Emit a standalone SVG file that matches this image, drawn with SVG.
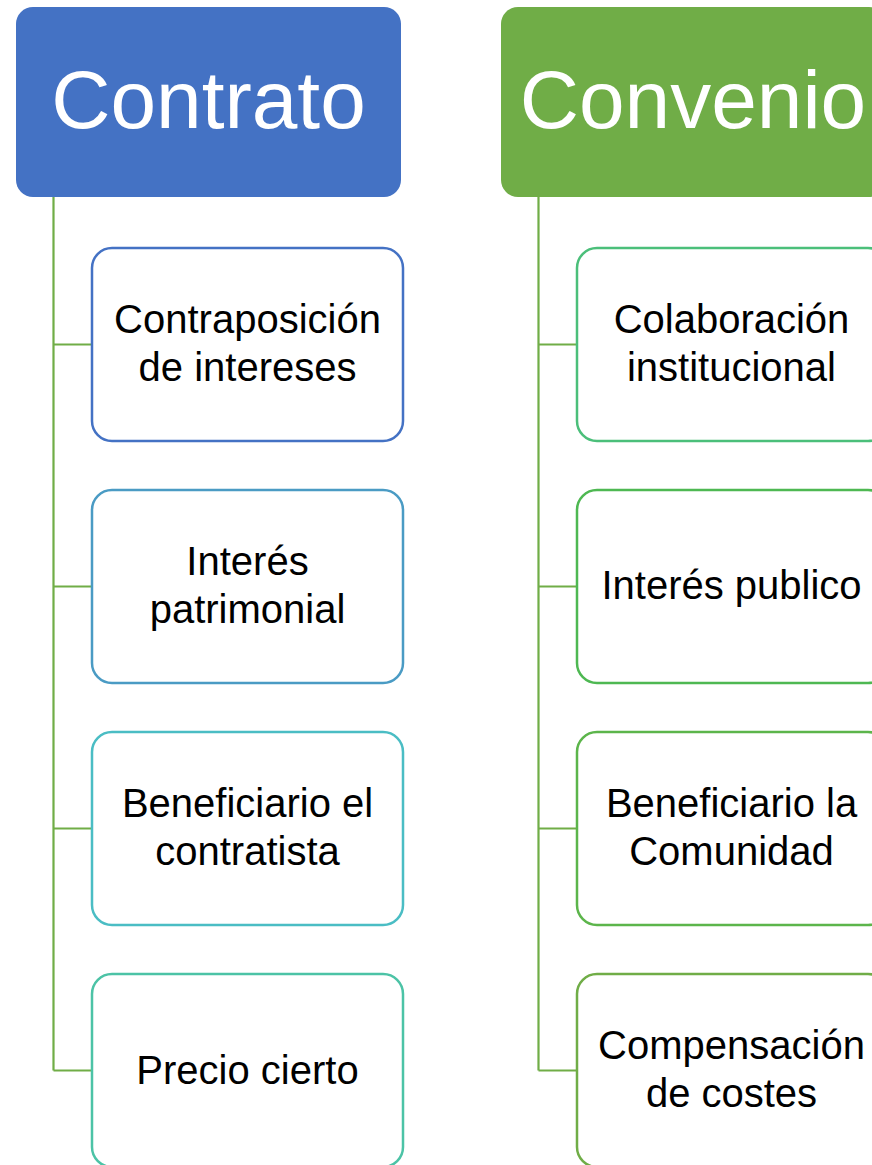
<svg xmlns="http://www.w3.org/2000/svg" width="872" height="1165" viewBox="0 0 872 1165">
<style>
.hdr{font-family:"Liberation Sans",Arial,sans-serif;font-size:82px;fill:#ffffff;text-anchor:middle}
.lbl{font-family:"Liberation Sans",Arial,sans-serif;font-size:40px;fill:#000000;text-anchor:middle}
.box{fill:#ffffff;stroke-width:2.5}
.conn{fill:none;stroke:#70AD47;stroke-width:2.2}
</style>
<rect width="872" height="1165" fill="#ffffff"/>
<g id="connectors">
<path class="conn" d="M53.5 197 V1070.5 M53.5 344.5 H92 M53.5 586.5 H92 M53.5 828.5 H92 M53.5 1070.5 H92"/>
<path class="conn" d="M538.5 197 V1070.5 M538.5 344.5 H577 M538.5 586.5 H577 M538.5 828.5 H577 M538.5 1070.5 H577"/>
</g>
<g id="contrato">
<rect x="16" y="7" width="385" height="190" rx="17" fill="#4472C4"/>
<text class="hdr" x="208.5" y="128">Contrato</text>
</g>
<g id="convenio">
<rect x="501" y="7" width="385" height="190" rx="17" fill="#70AD47"/>
<text class="hdr" x="693" y="128">Convenio</text>
</g>
<g id="c1">
<rect class="box" x="92" y="248" width="311" height="193" rx="20" stroke="#4472C4"/>
<text class="lbl" x="247.5" y="333">Contraposición</text>
<text class="lbl" x="247.5" y="381">de intereses</text>
</g>
<g id="c2">
<rect class="box" x="92" y="490" width="311" height="193" rx="20" stroke="#4A9BC4"/>
<text class="lbl" x="247.5" y="575">Interés</text>
<text class="lbl" x="247.5" y="623">patrimonial</text>
</g>
<g id="c3">
<rect class="box" x="92" y="732" width="311" height="193" rx="20" stroke="#4ABDC4"/>
<text class="lbl" x="247.5" y="817">Beneficiario el</text>
<text class="lbl" x="247.5" y="865">contratista</text>
</g>
<g id="c4">
<rect class="box" x="92" y="974" width="311" height="193" rx="20" stroke="#4CC3A6"/>
<text class="lbl" x="247.5" y="1084">Precio cierto</text>
</g>
<g id="v1">
<rect class="box" x="577" y="248" width="311" height="193" rx="20" stroke="#4BBF7A"/>
<text class="lbl" x="731.5" y="333">Colaboración</text>
<text class="lbl" x="731.5" y="381">institucional</text>
</g>
<g id="v2">
<rect class="box" x="577" y="490" width="311" height="193" rx="20" stroke="#4EB852"/>
<text class="lbl" x="731.5" y="599">Interés publico</text>
</g>
<g id="v3">
<rect class="box" x="577" y="732" width="311" height="193" rx="20" stroke="#5CB54B"/>
<text class="lbl" x="731.5" y="817">Beneficiario la</text>
<text class="lbl" x="731.5" y="865">Comunidad</text>
</g>
<g id="v4">
<rect class="box" x="577" y="974" width="311" height="193" rx="20" stroke="#70AD47"/>
<text class="lbl" x="731.5" y="1059">Compensación</text>
<text class="lbl" x="731.5" y="1107">de costes</text>
</g>
</svg>
